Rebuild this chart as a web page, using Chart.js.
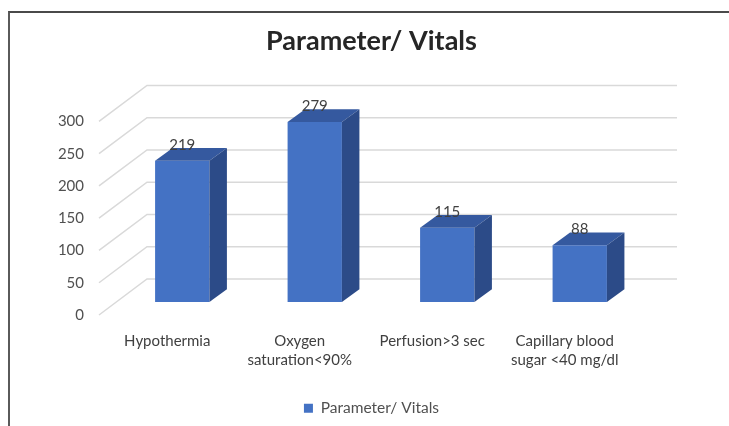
<!DOCTYPE html>
<html>
<head>
<meta charset="utf-8">
<script src="https://cdn.jsdelivr.net/npm/chart.js@4.4.0/dist/chart.umd.min.js"></script>
<style>
  body { margin: 0; background: #fff; }
  #frame { position: absolute; left: 8px; top: 11px; width: 760px; height: 460px;
           border-left: 2px solid #5a5a5a; border-top: 2px solid #4a4a4a; }
  #graficoVitals { position: absolute; left: 0; top: 0; }
</style>
</head>
<body>
<div id="frame"></div>
<canvas id="graficoVitals" width="729" height="426"></canvas>
<script>
// data
const categorias = [
  'Hypothermia',
  ['Oxygen', 'saturation<90%'],
  'Perfusion>3 sec',
  ['Capillary blood', 'sugar <40 mg/dl']
];
const valores = [219, 279, 115, 88];
const ticksY = [0, 50, 100, 150, 200, 250, 300];
const serie = 'Parameter/ Vitals';

const fonte = 'Lato, "Open Sans", sans-serif';

// 3d look: offsets of the bar top/side and of the walls
const BAR_DX = 17.5, BAR_DY = -12.7;
const FRENTE = {dx: -17, dy: 13};
const FUNDO = {dx: 31, dy: -23};

const paredes = {
  id: 'paredes',
  beforeDatasetsDraw(chart) {
    const {ctx, chartArea: a, scales: {y}} = chart;
    ctx.save();
    ctx.strokeStyle = '#d9d9d9';
    ctx.lineWidth = 1.5;
    ticksY.forEach(v => {
      const py = y.getPixelForValue(v);
      ctx.beginPath();
      ctx.moveTo(a.left + FRENTE.dx, py + FRENTE.dy);
      ctx.lineTo(a.left + FUNDO.dx, py + FUNDO.dy);
      ctx.lineTo(a.right + FUNDO.dx, py + FUNDO.dy);
      ctx.stroke();
    });
    ctx.restore();
  },
  afterDatasetsDraw(chart) {
    const ctx = chart.ctx;
    const meta = chart.getDatasetMeta(0);
    ctx.save();
    meta.data.forEach((bar, i) => {
      const {x, y, base, width} = bar.getProps(['x', 'y', 'base', 'width'], true);
      const l = x - width / 2, r = x + width / 2;
      // top
      ctx.fillStyle = '#35599f';
      ctx.beginPath();
      ctx.moveTo(l, y);
      ctx.lineTo(l + BAR_DX, y + BAR_DY);
      ctx.lineTo(r + BAR_DX, y + BAR_DY);
      ctx.lineTo(r, y);
      ctx.closePath();
      ctx.fill();
      // side
      ctx.fillStyle = '#2c4b88';
      ctx.beginPath();
      ctx.moveTo(r, y);
      ctx.lineTo(r + BAR_DX, y + BAR_DY);
      ctx.lineTo(r + BAR_DX, base + BAR_DY);
      ctx.lineTo(r, base);
      ctx.closePath();
      ctx.fill();
      // value
      ctx.fillStyle = '#404040';
      ctx.font = '15px ' + fonte;
      ctx.textAlign = 'center';
      ctx.textBaseline = 'middle';
      ctx.fillText(valores[i], x, y - 16);
    });
    ctx.restore();
  }
};

const config = {
  type: 'bar',
  data: {
    labels: categorias,
    datasets: [{
      label: serie,
      data: valores,
      backgroundColor: '#4472c4',
      barPercentage: 0.41,
      categoryPercentage: 1
    }]
  },
  options: {
    responsive: false,
    animation: false,
    layout: { padding: { left: 14, right: 0, top: 0, bottom: 0 } },
    plugins: {
      title: {
        display: true,
        text: serie,
        color: '#262626',
        font: { family: fonte, size: 27, weight: 'bold' },
        padding: { top: 25, bottom: 51 }
      },
      legend: {
        position: 'bottom',
        labels: {
          color: '#505050',
          font: { family: fonte, size: 15.5 },
          boxWidth: 9,
          boxHeight: 9,
          padding: 10
        }
      },
      tooltip: { enabled: false }
    },
    scales: {
      x: {
        grid: { display: false, drawTicks: false },
        border: { display: false },
        ticks: {
          color: '#404040',
          font: { family: fonte, size: 15, lineHeight: 1.27 },
          maxRotation: 0,
          autoSkip: false,
          padding: 30,
          labelOffset: -15
        },
        afterFit(s) {
          s.height = 426 - 302 - s.chart.legend.height;
          s.paddingLeft = 0;
          s.paddingRight = 0;
        }
      },
      y: {
        min: ticksY[0],
        max: ticksY[ticksY.length - 1],
        grid: { display: false, drawTicks: false },
        border: { display: false },
        ticks: {
          color: '#505050',
          font: { family: fonte, size: 15 },
          padding: 32,
          labelOffset: 13
        },
        afterBuildTicks(s) {
          s.ticks = ticksY.map(v => ({ value: v }));
        },
        afterFit(s) {
          s.width = 102;
          s.paddingTop = 0;
          s.paddingBottom = 0;
        }
      },
      lado: {
        position: 'right',
        grid: { display: false, drawTicks: false },
        border: { display: false },
        ticks: { display: false },
        afterFit(s) {
          s.width = 83;
        }
      }
    }
  },
  plugins: [paredes]
};

var meuGrafico = new Chart(document.getElementById('graficoVitals'), config);
</script>
</body>
</html>
